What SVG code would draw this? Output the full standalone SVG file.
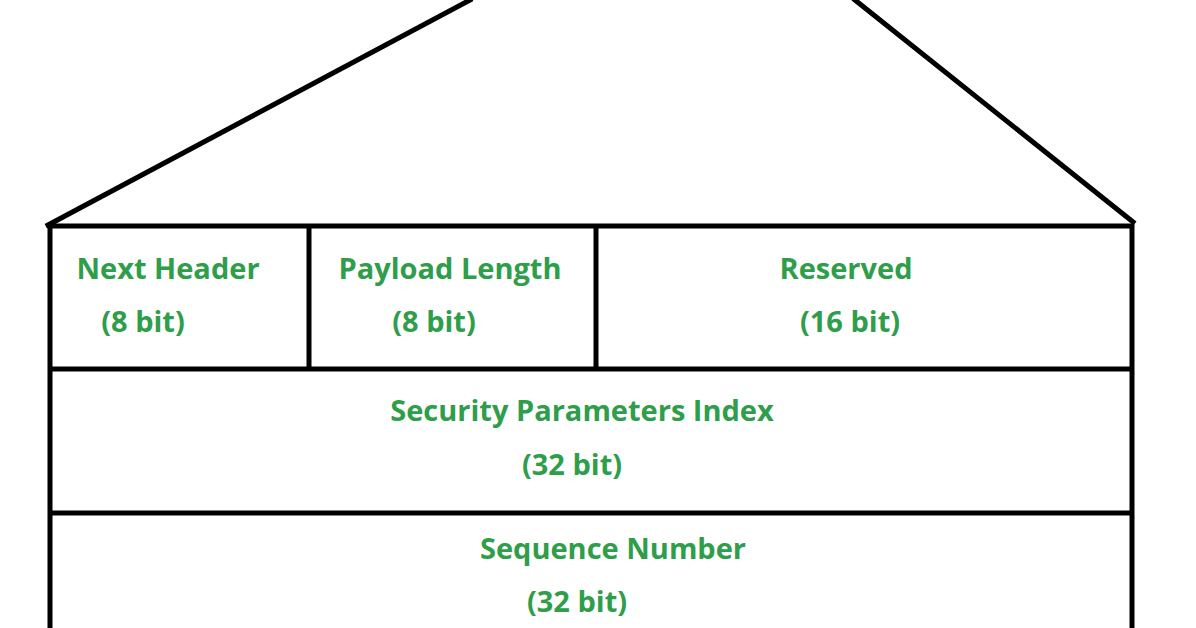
<svg xmlns="http://www.w3.org/2000/svg" width="1196" height="628" viewBox="0 0 1196 628">
<style>
.l{stroke:#000;stroke-width:5;fill:none;stroke-linecap:square}
.t{font-family:"Open Sans","Liberation Sans",sans-serif;font-weight:bold;font-size:29px;fill:#2f9e4a;text-anchor:middle}
</style>
<rect width="1196" height="628" fill="#fff"/>
<g id="connectors">
<path class="l" d="M48,225 L470,0 M855,0 L1133,222"/>
</g>
<g id="frame">
<path class="l" d="M50,226 H1132 V640 M50,226 V640 M50,369 H1132 M50,513 H1132 M309,226 V369 M596,226 V369"/>
</g>
<g id="next-header"><text class="t" x="168" y="279">Next Header</text><text class="t" x="143" y="332">(8 bit)</text></g>
<g id="payload-length"><text class="t" x="450" y="279">Payload Length</text><text class="t" x="434" y="332">(8 bit)</text></g>
<g id="reserved"><text class="t" x="846" y="279">Reserved</text><text class="t" x="850" y="332">(16 bit)</text></g>
<g id="spi"><text class="t" x="582" y="421">Security Parameters Index</text><text class="t" x="572" y="475">(32 bit)</text></g>
<g id="seq"><text class="t" x="613" y="559">Sequence Number</text><text class="t" x="577" y="612">(32 bit)</text></g>
</svg>
